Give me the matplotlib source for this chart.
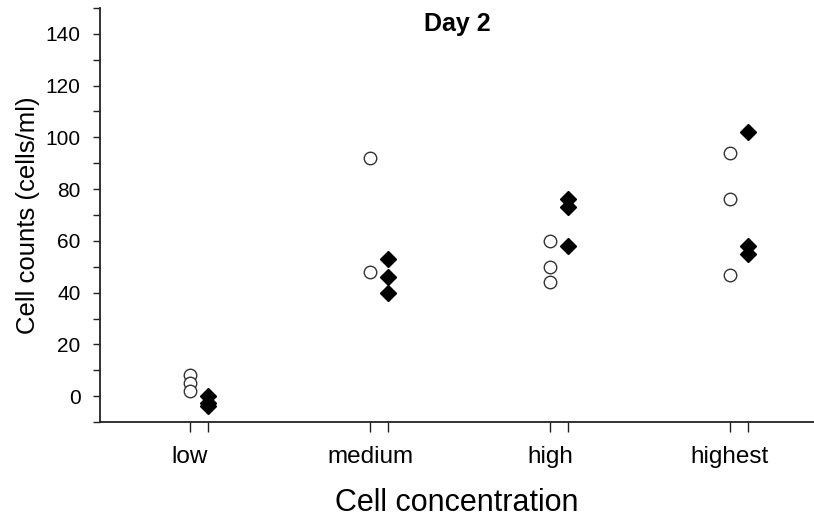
import numpy as np
import matplotlib.pyplot as plt
from matplotlib.ticker import MultipleLocator, FixedLocator

plt.rcParams['font.family'] = ['Liberation Sans', 'DejaVu Sans']

# groups on the x axis
groups = ['low', 'medium', 'high', 'highest']

# open circles (left of each group)
circles = [
    [8, 5, 2],
    [92, 48],
    [60, 50, 44],
    [94, 76, 47],
]

# filled diamonds (right of each group)
diamonds = [
    [0, -2.5, -4],
    [53, 46, 40],
    [76, 73, 58],
    [102, 58, 55],
]

offset = 0.1

fig = plt.figure(figsize=(8.14, 5.18), dpi=100)
ax = fig.add_axes([0.1229, 0.1853, 0.8771, 0.7993])

for i, (c, d) in enumerate(zip(circles, diamonds)):
    xc = i + 1
    xd = i + 1 + offset
    ax.plot([xc] * len(c), c, 'o', ms=9, mfc='white', mec='#333333', mew=1.0, ls='none')
    ax.plot([xd] * len(d), d, 'D', ms=8, mfc='black', mec='black', ls='none')

ax.set_xlim(0.5, 4.467)
ax.set_ylim(-10, 150)

ax.set_xticks(np.arange(1, len(groups) + 1))
ax.set_xticklabels(groups)
ax.xaxis.set_minor_locator(FixedLocator(np.arange(1, len(groups) + 1) + offset))
ax.set_yticks(np.arange(0, 141, 20))
ax.yaxis.set_minor_locator(MultipleLocator(10))

ax.tick_params(axis='both', which='both', direction='out', width=1.0, color='#222222')
ax.tick_params(axis='x', which='both', length=7, labelsize=17.5, pad=10)
ax.tick_params(axis='y', which='both', length=5, labelsize=15, pad=9)

for s in ['top', 'right']:
    ax.spines[s].set_visible(False)
for s in ['left', 'bottom']:
    ax.spines[s].set_linewidth(1.3)
    ax.spines[s].set_color('#222222')

ax.set_xlabel('Cell concentration', fontsize=22, labelpad=15)
ax.set_ylabel('Cell counts (cells/ml)', fontsize=18.5, labelpad=4)
ax.text(0.5, 0.99, 'Day 2', transform=ax.transAxes, ha='center', va='top',
        fontsize=18, fontweight='bold')

fig.savefig('out.png', dpi=100)
